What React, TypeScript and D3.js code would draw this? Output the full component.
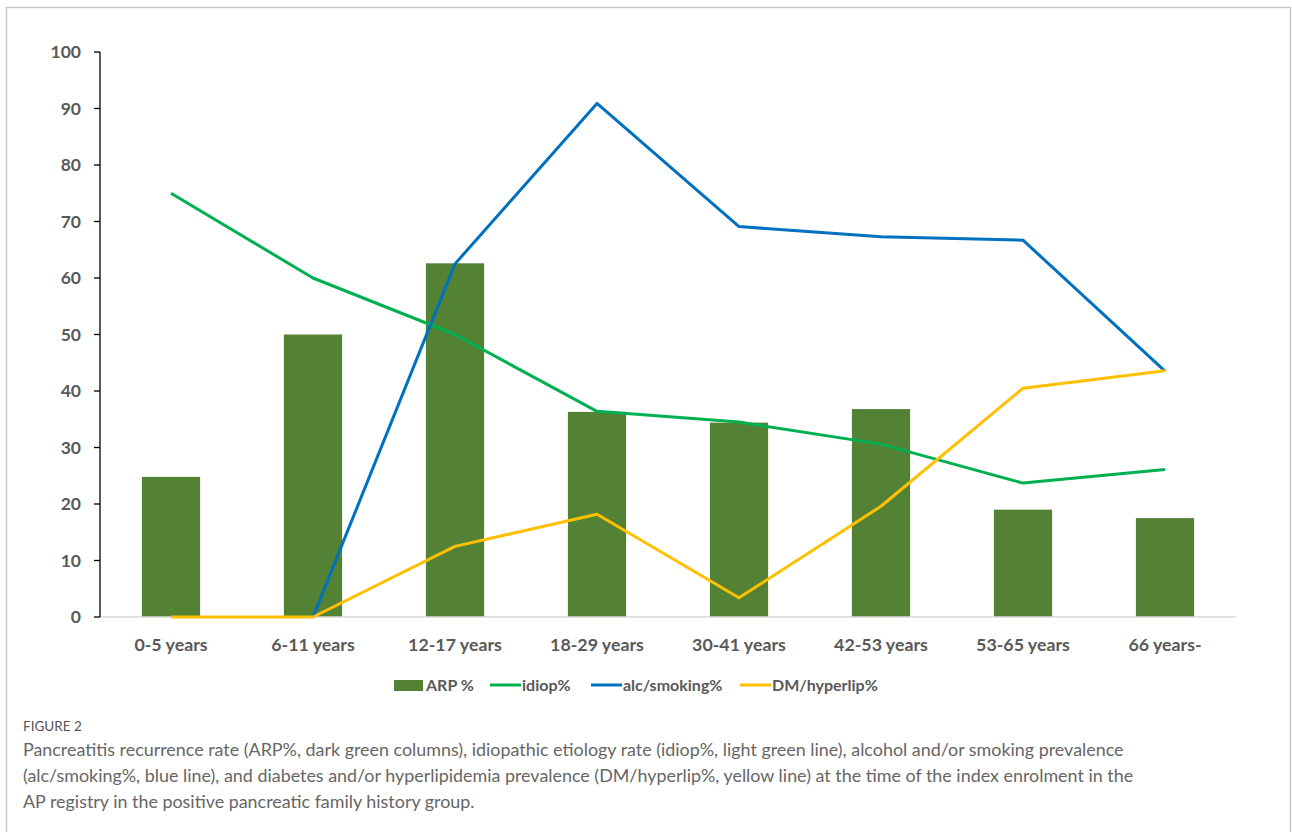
import React from 'react'
import * as d3 from 'd3'

const categories = ['0-5 years', '6-11 years', '12-17 years', '18-29 years', '30-41 years', '42-53 years', '53-65 years', '66 years-']
const arp = [24.8, 50, 62.6, 36.3, 34.4, 36.8, 19, 17.5]
const idiop = [75, 60, 50, 36.4, 34.5, 30.6, 23.7, 26.1]
const alcSmoking: (number | null)[] = [null, 0, 62.5, 90.9, 69.1, 67.3, 66.7, 43.5]
const dmHyperlip = [0, 0, 12.5, 18.2, 3.4, 19.6, 40.5, 43.6]
const yTicks = [0, 10, 20, 30, 40, 50, 60, 70, 80, 90, 100]

const captionLines = [
  'Pancreatitis recurrence rate (ARP%, dark green columns), idiopathic etiology rate (idiop%, light green line), alcohol and/or smoking prevalence',
  '(alc/smoking%, blue line), and diabetes and/or hyperlipidemia prevalence (DM/hyperlip%, yellow line) at the time of the index enrolment in the',
  'AP registry in the positive pancreatic family history group.',
]

const W = 1292
const H = 832
const plot = { left: 100, right: 1236, top: 52, bottom: 617 }
const labelFont = 'Lato, "Open Sans", sans-serif'
const labelColor = '#595959'

export default function App() {
  const x = d3.scaleBand<string>().domain(categories).range([plot.left, plot.right]).paddingInner(0.59).paddingOuter(0.295)
  const y = d3.scaleLinear().domain([0, 100]).range([plot.bottom, plot.top])
  const cx = (i: number) => (x(categories[i]) as number) + x.bandwidth() / 2

  const line = d3.line<number | null>()
    .defined(d => d !== null)
    .x((_, i) => cx(i))
    .y(d => y(d as number))

  const series = [
    { name: 'idiop%', values: idiop, color: '#00b050' },
    { name: 'alc/smoking%', values: alcSmoking, color: '#0070c0' },
    { name: 'DM/hyperlip%', values: dmHyperlip, color: '#ffc000' },
  ]

  const legend = [
    { name: 'ARP %', color: '#548235', kind: 'bar', x: 394 },
    { name: 'idiop%', color: '#00b050', kind: 'line', x: 490 },
    { name: 'alc/smoking%', color: '#0070c0', kind: 'line', x: 591 },
    { name: 'DM/hyperlip%', color: '#ffc000', kind: 'line', x: 740 },
  ]

  return (
    <div style={{ position: 'fixed', left: 0, top: 0 }}>
      <svg width={W} height={H} style={{ display: 'block', background: '#fff' }}>
        <rect x={6.5} y={7.5} width={1284} height={860} fill="#fff" stroke="#c8c8c8" strokeWidth={1.5} />

        {/* bars */}
        {arp.map((v, i) => (
          <rect key={i} x={x(categories[i])} y={y(v)} width={x.bandwidth()} height={y(0) - y(v)} fill="#548235" />
        ))}

        {/* x axis line */}
        <line x1={plot.left} x2={plot.right} y1={plot.bottom} y2={plot.bottom} stroke="#d9d9d9" strokeWidth={1.5} />

        {/* y axis */}
        <line x1={plot.left} x2={plot.left} y1={plot.top} y2={plot.bottom} stroke="#000" strokeWidth={1.3} />
        {yTicks.map(t => (
          <g key={t}>
            <line x1={plot.left - 6} x2={plot.left} y1={y(t)} y2={y(t)} stroke="#000" strokeWidth={1.3} />
            <text x={plot.left - 19} y={y(t)} dy="0.35em" textAnchor="end" fontFamily={labelFont} fontWeight={700} fontSize={17.5} fill={labelColor}>{t}</text>
          </g>
        ))}

        {/* lines */}
        {series.map(s => (
          <path key={s.name} d={line(s.values) || ''} fill="none" stroke={s.color} strokeWidth={3} strokeLinejoin="round" />
        ))}

        {/* x labels */}
        {categories.map((c, i) => (
          <text key={c} x={cx(i)} y={651} textAnchor="middle" fontFamily={labelFont} fontWeight={700} fontSize={17.8} fill={labelColor}>{c}</text>
        ))}

        {/* legend */}
        {legend.map(l => (
          <g key={l.name}>
            {l.kind === 'bar'
              ? <rect x={l.x} y={680} width={29} height={11} fill={l.color} />
              : <line x1={l.x} x2={l.x + 31} y1={685} y2={685} stroke={l.color} strokeWidth={3} />}
            <text x={l.x + 32} y={691} fontFamily={labelFont} fontWeight={700} fontSize={16} fill={labelColor}>{l.name}</text>
          </g>
        ))}

        {/* caption */}
        <text x={23} y={731} fontFamily={labelFont} fontSize={13.5} fill="#555">FIGURE 2</text>
        {captionLines.map((t, i) => (
          <text key={i} x={23} y={756 + i * 26} fontFamily={labelFont} fontSize={17.9} fill="#666">{t}</text>
        ))}
      </svg>
    </div>
  )
}
